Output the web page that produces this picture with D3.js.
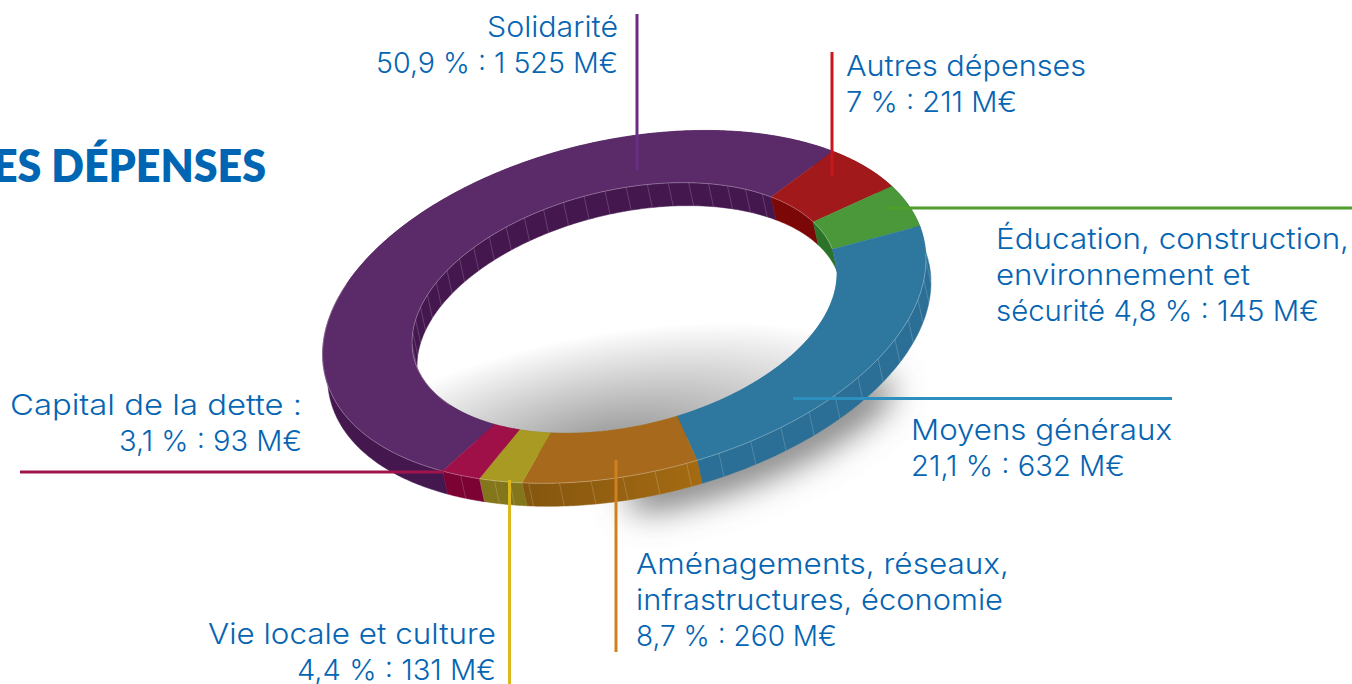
<!DOCTYPE html>
<meta charset='utf-8'>
<style>
	body { margin: 0; background: #fff; overflow: hidden; }
	text { font-family: Inter, sans-serif; font-weight: 300; fill: #0565b3; font-size: 29px; }
</style>
<body>
<script src='https://cdn.jsdelivr.net/npm/d3@7'></script>
<script type='text/javascript'>
	var amounts = [1525, 211, 145, 632, 260, 131, 93];
	var labels = [
		['Solidarité', '50,9 % : 1 525 M€'],
		['Autres dépenses', '7 % : 211 M€'],
		['Éducation, construction,', 'environnement et', 'sécurité 4,8 % : 145 M€'],
		['Moyens généraux', '21,1 % : 632 M€'],
		['Aménagements, réseaux,', 'infrastructures, économie', '8,7 % : 260 M€'],
		['Vie locale et culture', '4,4 % : 131 M€'],
		['Capital de la dette :', '3,1 % : 93 M€']
	];
	var topColors = ['#5b2a69', '#a2191c', '#4a983a', '#2e789f', '#a76a1d', '#a99a24', '#9e1047'];
	var wallColors = ['#44184f', '#7b0707', '#2c7229', '#2b6f96', 'url(#amenWall)', '#84761a', '#7c0234'];
	var lineColors = ['#6a2d83', '#c8161d', '#4f9d2b', '#2d8fc0', '#d0811f', '#dbb81c', '#a0144c'];

	// ring outline
	var outer = {cx: 624.258, cy: 306.864, a: 166.995, b: 307.014, phi: 1.348};
	var inner = {cx: 624.545, cy: 307.996, a: 118.275, b: 216.506, phi: 1.340};
	var outerT = [0.7686, 4.0284, 4.3548, 4.6306, 6.1620, 6.7516, 6.9070, 7.0518];
	var innerT = [0.7864, 4.0305, 4.3618, 4.6301, 6.1607, 6.7675, 6.9292, 7.0696];

	function point(e, t) {
		var u = e.a*Math.cos(t), v = e.b*Math.sin(t), cs = Math.cos(e.phi), sn = Math.sin(e.phi);
		return [e.cx + u*cs - v*sn, e.cy + u*sn + v*cs];
	}
	var slices = d3.pie().sort(null).value(function (d) { return d; })(amounts);
	var bounds = slices.map(function (s) { return s.startAngle; }).concat(2*Math.PI);
	var outerAngle = d3.scaleLinear().domain(bounds).range(outerT);
	var innerAngle = d3.scaleLinear().domain(bounds).range(innerT);

	var depth = [5, 23];
	function rim(e, scale, a0, a1, dx, dy) {
		var n = Math.max(2, Math.ceil((a1-a0)/0.01)), out = [];
		for (var i = 0; i <= n; i++) {
			var p = point(e, scale(a0+(a1-a0)*i/n));
			out.push([p[0]+(dx||0), p[1]+(dy||0)]);
		}
		return out;
	}
	var line = d3.line();
	var svg = d3.select('body').append('svg').attr('width', 1352).attr('height', 684);
	var defs = svg.append('defs');
	defs.append('filter').attr('id', 'blur').attr('filterUnits', 'userSpaceOnUse')
		.attr('x', 0).attr('y', 0).attr('width', 1352).attr('height', 684)
		.append('feGaussianBlur').attr('stdDeviation', 17);
	var holeGrad = defs.append('radialGradient').attr('id', 'hole').attr('gradientUnits', 'userSpaceOnUse')
		.attr('cx', 0).attr('cy', 0).attr('r', 1)
		.attr('gradientTransform', 'translate(610,445) rotate(-10) scale(310,112)');
	holeGrad.append('stop').attr('offset', 0.1).attr('stop-color', '#9f9f9f');
	holeGrad.append('stop').attr('offset', 0.55).attr('stop-color', '#cfcfcf');
	holeGrad.append('stop').attr('offset', 1).attr('stop-color', '#fff');
	var amenGrad = defs.append('linearGradient').attr('id', 'amenWall').attr('gradientUnits', 'userSpaceOnUse')
		.attr('x1', 525).attr('y1', 0).attr('x2', 703).attr('y2', 0);
	amenGrad.append('stop').attr('offset', 0).attr('stop-color', '#85560f');
	amenGrad.append('stop').attr('offset', 1).attr('stop-color', '#a56b12');

	// ground shadow under the front of the ring
	svg.append('path').attr('d', line(rim(outer, outerAngle, bounds[3]+0.75, bounds[4]+0.2, 12, 18)))
		.attr('fill', 'none').attr('stroke', '#707070').attr('stroke-width', 34).attr('stroke-linecap', 'round')
		.attr('filter', 'url(#blur)');

	// hole
	svg.append('path').attr('d', line(rim(inner, innerAngle, 0, 2*Math.PI))+'Z').attr('fill', 'url(#hole)');

	// walls
	var walls = svg.append('g');
	slices.forEach(function (s, i) {
		[[outer, outerAngle], [inner, innerAngle]].forEach(function (e) {
			var up = rim(e[0], e[1], s.startAngle, s.endAngle), down = rim(e[0], e[1], s.startAngle, s.endAngle, depth[0], depth[1]).reverse();
			walls.append('path').attr('d', line(up.concat(down))+'Z').attr('fill', wallColors[i]).attr('stroke', wallColors[i]).attr('stroke-width', 0.5);
		});
	});
	var facetStep = 2*Math.PI/64;
	d3.range(0, 2*Math.PI, facetStep).forEach(function (a) {
		var e = a < bounds[1] ? [inner, innerAngle] : (a > bounds[3] ? [outer, outerAngle] : null);
		if (!e) return;
		var p = point(e[0], e[1](a));
		walls.append('line').attr('x1', p[0]).attr('y1', p[1]).attr('x2', p[0]+depth[0]).attr('y2', p[1]+depth[1])
			.attr('stroke', '#fff').attr('stroke-opacity', 0.22).attr('stroke-width', 0.8);
	});

	// top face
	var faces = svg.append('g');
	slices.forEach(function (s, i) {
		var o = rim(outer, outerAngle, s.startAngle, s.endAngle), n = rim(inner, innerAngle, s.startAngle, s.endAngle).reverse();
		faces.append('path').attr('d', line(o.concat(n))+'Z').attr('fill', topColors[i]).attr('stroke', topColors[i]).attr('stroke-width', 0.4);
	});
	// light edge where the face meets the walls
	[[outer, outerAngle, bounds[3]+0.15, 2*Math.PI], [outer, outerAngle, 0, 1.3], [inner, innerAngle, 0.3, bounds[3]]].forEach(function (e) {
		faces.append('path').attr('d', line(rim(e[0], e[1], e[2], e[3]))).attr('fill', 'none')
			.attr('stroke', '#fff').attr('stroke-opacity', 0.35).attr('stroke-width', 0.8);
	});

	// leaders: x1, y1, x2, y2 per slice
	var leaders = [[637,14,637,170],[832,52,832,176],[885,208,1352,208],[793,398.5,1172,398.5],[616,460,616,652],[509.5,480,509.5,684],[20,472,444,472]];
	leaders.forEach(function (l, i) {
		svg.append('line').attr('x1', l[0]).attr('y1', l[1]).attr('x2', l[2]).attr('y2', l[3])
			.attr('stroke', lineColors[i]).attr('stroke-width', 3);
	});

	// label anchor x, first baseline, anchor, line widths in the reference
	var labelPos = [
		[618, 37, 'end', [131, 242]],
		[846, 76, 'start', [240, 171]],
		[996, 249, 'start', [353, 254, 323]],
		[911, 440, 'start', [261, 214]],
		[636, 574, 'start', [373, 367, 201]],
		[496, 644, 'end', [288, 199]],
		[302, 415, 'end', [292, 183]]
	];
	labels.forEach(function (lines, i) {
		lines.forEach(function (t, j) {
			svg.append('text').attr('x', labelPos[i][0]).attr('y', labelPos[i][1] + 36*j)
				.attr('text-anchor', labelPos[i][2])
				.attr('textLength', labelPos[i][3][j]).attr('lengthAdjust', 'spacingAndGlyphs').text(t);
		});
	});
	svg.append('text').attr('x', -7).attr('y', 182)
		.attr('textLength', 273).attr('lengthAdjust', 'spacingAndGlyphs')
		.style('font-family', 'Lato, sans-serif').style('font-size', '46px').style('font-weight', 800).style('fill', '#0066b3').text('ES DÉPENSES');
</script>
